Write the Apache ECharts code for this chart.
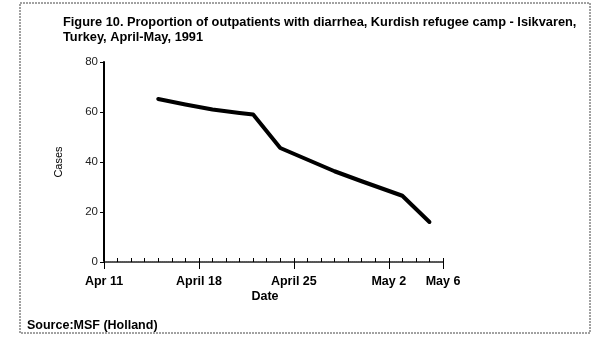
<!DOCTYPE html>
<html>
<head>
<meta charset="utf-8">
<script src="https://cdn.jsdelivr.net/npm/echarts@6/dist/echarts.min.js"></script>
<style>html,body{margin:0;padding:0;background:#fff}#c{width:601px;height:337px}</style>
</head>
<body>
<div id="c"></div>
<script>
const titleLines = ['Figure 10. Proportion of outpatients with diarrhea, Kurdish refugee camp - Isikvaren,', 'Turkey, April-May, 1991'];
const sourceText = 'Source:MSF (Holland)';
const startDate = '1991-04-11';
const endDate = '1991-05-06';
const dates = ['1991-04-15','1991-04-17','1991-04-19','1991-04-21','1991-04-22','1991-04-24','1991-04-28','1991-04-30','1991-05-03','1991-05-05'];
const values = [65.2, 63.0, 61.0, 59.6, 59.0, 45.6, 36.3, 32.3, 26.5, 16.0];
const xTickDates = ['1991-04-11','1991-04-18','1991-04-25','1991-05-02','1991-05-06'];
const xTickLabels = ['Apr 11','April 18','April 25','May 2','May 6'];
const yTicks = [0, 20, 40, 60, 80];

const day = d => Math.round((Date.parse(d) - Date.parse(startDate)) / 86400000);
const xMax = day(endDate);
const majorDays = xTickDates.map(day);
const labelMap = {};
majorDays.forEach((d, i) => labelMap[d] = xTickLabels[i]);

const chart = echarts.init(document.getElementById('c'), null, {renderer: 'canvas'});
const font = 'Arial, "Liberation Sans", sans-serif';
chart.setOption({
  animation: false,
  backgroundColor: '#fff',
  textStyle: {fontFamily: font},
  title: {
    text: titleLines.join('\n'),
    left: 58, top: 10,
    textStyle: {fontSize: 12.8, fontWeight: 'bold', color: '#000', lineHeight: 15, fontFamily: font}
  },
  grid: {left: 104, right: 158, top: 62, bottom: 75},
  xAxis: [{
    type: 'value', min: 0, max: xMax, interval: 1,
    axisLine: {show: true, lineStyle: {color: '#555', width: 2, type: [1, 1]}},
    axisTick: {show: true, inside: true, length: 4, lineStyle: {color: '#000', width: 1}},
    axisLabel: {show: false},
    splitLine: {show: false}
  }, {
    type: 'value', min: 0, max: xMax, position: 'bottom',
    axisLine: {show: false},
    axisTick: {show: true, inside: false, length: 7, customValues: majorDays, lineStyle: {color: '#000', width: 1}},
    axisLabel: {show: true, customValues: majorDays, margin: 13, formatter: v => labelMap[v] || '',
      color: '#000', fontSize: 12.5, fontWeight: 'bold', fontFamily: font},
    splitLine: {show: false}
  }],
  yAxis: {
    type: 'value', min: 0, max: 80, interval: 20,
    name: 'Cases', nameLocation: 'middle', nameGap: 40, nameRotate: 90,
    nameTextStyle: {fontSize: 11, color: '#000', fontFamily: font},
    axisLine: {show: true, lineStyle: {color: '#000', width: 2}},
    axisTick: {show: true, length: 4, lineStyle: {color: '#000', width: 1}},
    axisLabel: {color: '#222', fontSize: 11.5, margin: 6, fontFamily: font},
    splitLine: {show: false}
  },
  series: [{
    type: 'line', xAxisIndex: 0,
    data: dates.map((d, i) => [day(d), values[i]]),
    showSymbol: false, symbol: 'none',
    lineStyle: {color: '#000', width: 4, join: 'round', cap: 'round'}
  }],
  graphic: [
    {type: 'rect', shape: {x: 20, y: 3, width: 570, height: 330}, style: {fill: 'none', stroke: '#444', lineWidth: 1, lineDash: [2, 1]}, z: 10},
    {type: 'text', x: 265, y: 297, style: {text: 'Date', font: 'bold 12.5px ' + font, fill: '#000', textAlign: 'center', textVerticalAlign: 'middle'}},
    {type: 'text', x: 27, y: 326, style: {text: sourceText, font: 'bold 12.5px ' + font, fill: '#000', textAlign: 'left', textVerticalAlign: 'middle'}}
  ]
});
</script>
</body>
</html>
